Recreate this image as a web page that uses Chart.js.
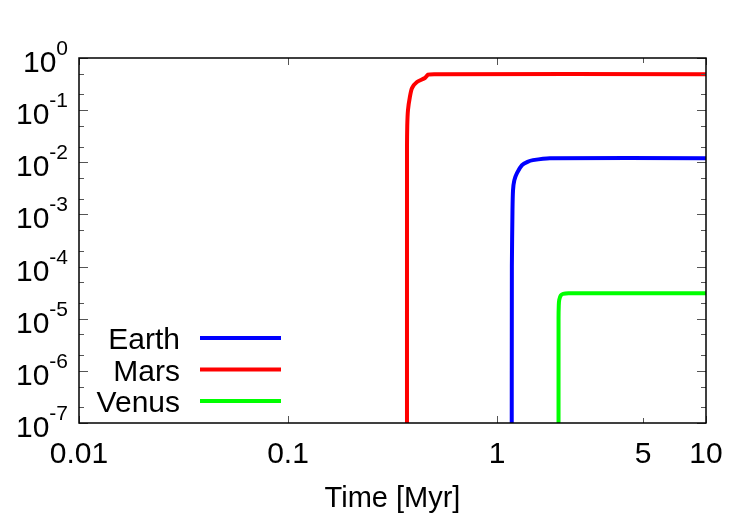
<!DOCTYPE html>
<html>
<head>
<meta charset="utf-8">
<script src="https://cdn.jsdelivr.net/npm/chart.js@4"></script>
<style>
    body { margin: 0; background: #fff; }
    canvas { display: block; }
</style>
</head>
<body>
<canvas id="chart" width="750" height="525"></canvas>
<script>
const marsTime = [0.371, 0.371, 0.372, 0.375, 0.383, 0.392, 0.414, 0.452, 0.468, 0.50, 10];
const marsFrac = [1e-8, 0.02, 0.05, 0.1, 0.18, 0.265, 0.346, 0.413, 0.48, 0.49, 0.49];

const earthTime = [1.176, 1.178, 1.186, 1.193, 1.21, 1.246, 1.317, 1.40, 1.486, 1.79, 10];
const earthFrac = [1e-8, 1e-4, 1.2e-3, 2.9e-3, 4.5e-3, 6.2e-3, 8.8e-3, 0.0102, 0.011, 0.012, 0.012];

const venusTime = [1.97, 1.97, 1.975, 1.985, 2.02, 2.07, 2.2, 10];
const venusFrac = [1e-8, 1e-5, 1.8e-5, 2.3e-5, 2.8e-5, 3.0e-5, 3.07e-5, 3.07e-5];

const xTickValues = [0.01, 0.1, 1, 5, 10];
const xTickLabels = ['0.01', '0.1', '1', '5', '10'];
const yExponents = [0, -1, -2, -3, -4, -5, -6, -7];

const legendOrder = ['Earth', 'Mars', 'Venus'];
const FONT = "'Liberation Sans', Arial, sans-serif";

function toPoints(xs, ys) {
    return xs.map((x, i) => ({ x: x, y: ys[i] }));
}

const gnuplotFrame = {
    id: 'gnuplotFrame',
    afterDatasetsDraw(chart) {
        const ctx = chart.ctx;
        const area = chart.chartArea;
        const xs = chart.scales.x;
        const ys = chart.scales.y;
        ctx.save();

        // tics, mirrored on all four sides
        ctx.strokeStyle = '#555';
        ctx.lineWidth = 1;
        ctx.beginPath();
        yExponents.forEach(e => {
            const base = Math.pow(10, e);
            [1, 2, 5].forEach(m => {
                const v = m === 1 ? base : base * m / 10;
                if (v < 1e-7 || v > 1) return;
                const py = Math.round(ys.getPixelForValue(v)) + 0.5;
                const len = m === 1 ? 9 : 5;
                ctx.moveTo(area.left, py); ctx.lineTo(area.left + len, py);
                ctx.moveTo(area.right, py); ctx.lineTo(area.right - len, py);
            });
        });
        xTickValues.forEach(v => {
            const px = Math.round(xs.getPixelForValue(v)) + 0.5;
            const len = v === 5 ? 5 : 7;
            ctx.moveTo(px, area.bottom); ctx.lineTo(px, area.bottom - len);
            ctx.moveTo(px, area.top); ctx.lineTo(px, area.top + len);
        });
        ctx.stroke();

        // border
        ctx.strokeStyle = '#000';
        ctx.lineWidth = 1.5;
        ctx.strokeRect(area.left, area.top, area.right - area.left, area.bottom - area.top);

        // x tick labels
        ctx.fillStyle = '#000';
        ctx.font = '30px ' + FONT;
        ctx.textAlign = 'center';
        ctx.textBaseline = 'alphabetic';
        xTickValues.forEach((v, i) => {
            ctx.fillText(xTickLabels[i], xs.getPixelForValue(v), 463);
        });

        // y tick labels as 10^n
        yExponents.forEach(e => {
            const py = ys.getPixelForValue(Math.pow(10, e));
            const sup = String(e);
            ctx.font = '21px ' + FONT;
            const supW = ctx.measureText(sup).width;
            ctx.font = '30px ' + FONT;
            const baseW = ctx.measureText('10').width;
            const right = 68;
            ctx.textAlign = 'left';
            ctx.fillText('10', right - supW - baseW, py + 14);
            ctx.font = '21px ' + FONT;
            ctx.fillText(sup, right - supW, py - 3);
        });

        // axis title
        ctx.font = '29px ' + FONT;
        ctx.textAlign = 'center';
        ctx.fillText('Time [Myr]', (area.left + area.right) / 2, 507);

        // key
        ctx.font = '30px ' + FONT;
        legendOrder.forEach((name, i) => {
            const ds = chart.data.datasets.find(d => d.label === name);
            const y = 338 + i * 31.5;
            ctx.textAlign = 'right';
            ctx.fillStyle = '#000';
            ctx.fillText(name, 180, y + 11);
            ctx.strokeStyle = ds.borderColor;
            ctx.lineWidth = 4;
            ctx.beginPath();
            ctx.moveTo(200, y);
            ctx.lineTo(281, y);
            ctx.stroke();
        });

        ctx.restore();
    }
};

const ctx = document.getElementById('chart').getContext('2d');
new Chart(ctx, {
    type: 'line',
    data: {
        datasets: [
            { label: 'Mars', data: toPoints(marsTime, marsFrac), borderColor: '#ff0000' },
            { label: 'Earth', data: toPoints(earthTime, earthFrac), borderColor: '#0000ff' },
            { label: 'Venus', data: toPoints(venusTime, venusFrac), borderColor: '#00ff00' }
        ]
    },
    options: {
        responsive: false,
        animation: false,
        devicePixelRatio: 1,
        layout: { padding: { left: 79, top: 58, right: 44, bottom: 102 } },
        elements: {
            line: { borderWidth: 4, tension: 0.2, borderJoinStyle: 'round', borderCapStyle: 'butt' },
            point: { radius: 0 }
        },
        scales: {
            x: { type: 'logarithmic', min: 0.01, max: 10, display: false },
            y: { type: 'logarithmic', min: 1e-7, max: 1, display: false }
        },
        plugins: {
            legend: { display: false },
            tooltip: { enabled: false }
        }
    },
    plugins: [gnuplotFrame]
});
</script>
</body>
</html>
